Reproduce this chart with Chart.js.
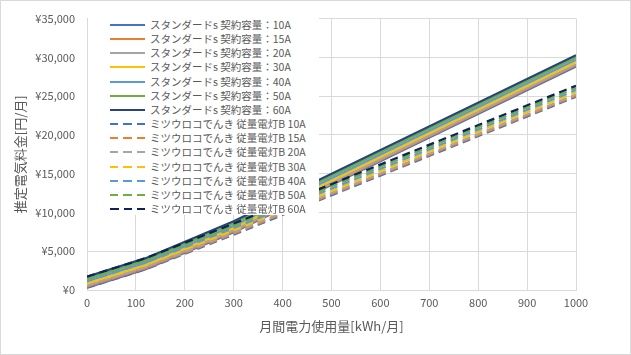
<!DOCTYPE html>
<html>
<head>
<meta charset="utf-8">
<script src="https://cdn.jsdelivr.net/npm/chart.js@4/dist/chart.umd.min.js"></script>
<style>
  html, body { margin: 0; padding: 0; background: #fff; }
  #wrap { position: relative; width: 631px; height: 355px; overflow: hidden; font-family: "Noto Sans CJK JP", "Noto Sans", sans-serif; }
  #frame { position: absolute; left: 0; top: 0; width: 631px; height: 355px; box-sizing: border-box; border: 1px solid #d9d9d9; pointer-events: none; }
  #legend { position: absolute; left: 88px; top: 14px; width: 231px; height: 201px; background: #fff; }
  .row { position: absolute; left: 0; height: 14px; line-height: 14px; font-size: 10.5px; color: #595959; white-space: nowrap; }
  .sample { position: absolute; left: 22px; top: 6px; width: 35px; height: 2px; }
  .txt { position: absolute; left: 62px; top: 0; }
</style>
</head>
<body>
<div id="wrap">
  <canvas id="c" width="631" height="355"></canvas>
  <div id="legend"></div>
  <div id="frame"></div>
</div>
<script>
// x categories (kWh/month)
const usage = [0, 120, 300, 1000];

// スタンダードS (solid)
const std10A = [286, 2672, 7438, 28837];
const std15A = [429, 2815, 7581, 28980];
const std20A = [572, 2958, 7724, 29123];
const std30A = [858, 3244, 8010, 29409];
const std40A = [1144, 3530, 8296, 29695];
const std50A = [1430, 3816, 8582, 29981];
const std60A = [1716, 4102, 8868, 30267];

// ミツウロコでんき 従量電灯B (dashed)
const mit10A = [286, 2672, 7136, 24916];
const mit15A = [429, 2815, 7279, 25059];
const mit20A = [572, 2958, 7422, 25202];
const mit30A = [858, 3244, 7708, 25488];
const mit40A = [1144, 3530, 7994, 25774];
const mit50A = [1430, 3816, 8280, 26060];
const mit60A = [1716, 4102, 8566, 26346];

const stdLabels = ['スタンダードs 契約容量：10A','スタンダードs 契約容量：15A','スタンダードs 契約容量：20A','スタンダードs 契約容量：30A','スタンダードs 契約容量：40A','スタンダードs 契約容量：50A','スタンダードs 契約容量：60A'];
const mitLabels = ['ミツウロコでんき 従量電灯B 10A','ミツウロコでんき 従量電灯B 15A','ミツウロコでんき 従量電灯B 20A','ミツウロコでんき 従量電灯B 30A','ミツウロコでんき 従量電灯B 40A','ミツウロコでんき 従量電灯B 50A','ミツウロコでんき 従量電灯B 60A'];

const yTicks = [0, 5000, 10000, 15000, 20000, 25000, 30000, 35000];
const xTicks = [0, 100, 200, 300, 400, 500, 600, 700, 800, 900, 1000];

const stdColors = ['#4472C4','#ED7D31','#A5A5A5','#FFC000','#5B9BD5','#70AD47','#264478'];
const mitColors = ['#4472C4','#ED7D31','#A5A5A5','#FFC000','#5B9BD5','#70AD47','#0E2356'];

const stdSeries = [std10A, std15A, std20A, std30A, std40A, std50A, std60A];
const mitSeries = [mit10A, mit15A, mit20A, mit30A, mit40A, mit50A, mit60A];

const datasets = [];
stdSeries.forEach((s, i) => datasets.push({
  label: stdLabels[i],
  data: usage.map((x, k) => ({x: x, y: s[k]})),
  borderColor: stdColors[i], backgroundColor: stdColors[i],
  borderWidth: 2.25, pointRadius: 0, tension: 0, fill: false
}));
mitSeries.forEach((s, i) => datasets.push({
  label: mitLabels[i],
  data: usage.map((x, k) => ({x: x, y: s[k]})),
  borderColor: mitColors[i], backgroundColor: mitColors[i],
  borderWidth: 2.25, borderDash: [8, 5], pointRadius: 0, tension: 0, fill: false
}));
datasets.forEach((d, i) => { d.order = datasets.length - i; });

const FONT = '"Noto Sans CJK JP", "Noto Sans", sans-serif';
const GRID = '#d9d9d9';
const TXT = '#595959';

new Chart(document.getElementById('c'), {
  type: 'line',
  data: { datasets: datasets },
  options: {
    responsive: false,
    animation: false,
    events: [],
    layout: { padding: { left: 0, right: 55, top: 15, bottom: 0 } },
    plugins: { legend: { display: false }, tooltip: { enabled: false } },
    scales: {
      x: {
        type: 'linear', min: 0, max: 1000,
        afterBuildTicks: s => { s.ticks = xTicks.map(v => ({value: v})); },
        afterFit: s => { s.height = 65; },
        ticks: { color: TXT, font: { family: FONT, size: 11 }, padding: 6, maxRotation: 0,
          callback: v => String(v) },
        grid: { color: GRID, lineWidth: 1, drawTicks: false },
        border: { color: GRID, width: 1 },
        title: { display: true, text: '月間電力使用量[kWh/月]', color: TXT, font: { family: FONT, size: 13 }, padding: { top: 4, bottom: 21 } }
      },
      y: {
        type: 'linear', min: 0, max: 35000,
        afterBuildTicks: s => { s.ticks = yTicks.map(v => ({value: v})); },
        afterFit: s => { s.width = 87; },
        ticks: { color: TXT, font: { family: FONT, size: 11 }, padding: 12,
          callback: v => '¥' + Number(v).toLocaleString('en-US') },
        grid: { color: GRID, lineWidth: 1, drawTicks: false },
        border: { color: GRID, width: 1 },
        title: { display: true, text: '推定電気料金[円/月]', color: TXT, font: { family: FONT, size: 13 }, padding: { top: 12, bottom: 4 } }
      }
    }
  }
});

// legend overlay (white box over the plot, as in the reference)
const leg = document.getElementById('legend');
const allLabels = stdLabels.concat(mitLabels);
const allColors = stdColors.concat(mitColors);
allLabels.forEach((lab, i) => {
  const row = document.createElement('div');
  row.className = 'row';
  const centerY = 25 + i * 14.15 - 14;
  row.style.top = (centerY - 7) + 'px';
  row.style.width = '231px';
  const smp = document.createElement('div');
  smp.className = 'sample';
  if (i < 7) {
    smp.style.background = allColors[i];
  } else {
    smp.style.background = 'repeating-linear-gradient(to right, ' + allColors[i] + ' 0px, ' + allColors[i] + ' 8.5px, transparent 8.5px, transparent 13.5px)';
  }
  const t = document.createElement('div');
  t.className = 'txt';
  t.textContent = lab;
  row.appendChild(smp);
  row.appendChild(t);
  leg.appendChild(row);
});
</script>
</body>
</html>
